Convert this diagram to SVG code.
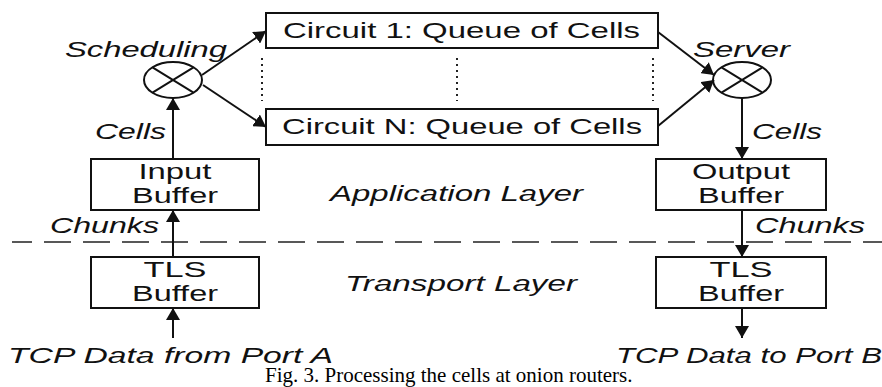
<svg xmlns="http://www.w3.org/2000/svg" width="882" height="387" viewBox="0 0 882 387">
<style>
.box{fill:#fff;stroke:#111;stroke-width:2}
.ln{fill:none;stroke:#111;stroke-width:2}
.t{font-family:"Liberation Sans",Arial,sans-serif;font-size:22px;fill:#111}
.i{font-style:italic}
.c{text-anchor:middle}
.cap{font-family:"Liberation Serif","Times New Roman",serif;font-size:21px;fill:#000}
.dash{fill:none;stroke:#222;stroke-width:1.6;stroke-dasharray:27 12;stroke-dashoffset:7}
.dot{fill:none;stroke:#222;stroke-width:2;stroke-dasharray:2 4}
</style>
<defs>
<marker id="ah" markerUnits="userSpaceOnUse" markerWidth="14" markerHeight="14" refX="12" refY="7" orient="auto">
<path d="M0,0 L12,7 L0,14 z" fill="#111"/>
</marker>
</defs>
<rect width="882" height="387" fill="#fff"/>
<line class="dash" x1="12" y1="242" x2="882" y2="242"/>
<g id="connectors">
<line class="ln" x1="202" y1="75" x2="266" y2="31" marker-end="url(#ah)"/>
<line class="ln" x1="203" y1="85" x2="266" y2="127" marker-end="url(#ah)"/>
<line class="ln" x1="658" y1="32" x2="714" y2="75" marker-end="url(#ah)"/>
<line class="ln" x1="658" y1="126" x2="714" y2="80" marker-end="url(#ah)"/>
<line class="ln" x1="173" y1="159" x2="173" y2="98" marker-end="url(#ah)"/>
<line class="ln" x1="173" y1="257" x2="173" y2="210" marker-end="url(#ah)"/>
<line class="ln" x1="173" y1="338" x2="173" y2="308" marker-end="url(#ah)"/>
<line class="ln" x1="742" y1="98" x2="742" y2="159" marker-end="url(#ah)"/>
<line class="ln" x1="742" y1="210" x2="742" y2="257" marker-end="url(#ah)"/>
<line class="ln" x1="742" y1="308" x2="742" y2="338" marker-end="url(#ah)"/>
<line class="dot" x1="262" y1="58" x2="262" y2="101"/>
<line class="dot" x1="457" y1="58" x2="457" y2="101"/>
<line class="dot" x1="653" y1="58" x2="653" y2="101"/>
</g>
<g id="scheduler">
<ellipse class="ln" cx="173" cy="80" rx="29" ry="18"/>
<line class="ln" x1="152.5" y1="67.3" x2="193.5" y2="92.7"/>
<line class="ln" x1="152.5" y1="92.7" x2="193.5" y2="67.3"/>
<text class="t i" x="65" y="57" textLength="162" lengthAdjust="spacingAndGlyphs">Scheduling</text>
</g>
<g id="server">
<ellipse class="ln" cx="742" cy="80" rx="29" ry="18"/>
<line class="ln" x1="721.5" y1="67.3" x2="762.5" y2="92.7"/>
<line class="ln" x1="721.5" y1="92.7" x2="762.5" y2="67.3"/>
<text class="t i" x="693" y="57" textLength="97" lengthAdjust="spacingAndGlyphs">Server</text>
</g>
<g id="circuit1">
<rect class="box" x="266" y="13" width="392" height="35"/>
<text class="t" x="283" y="38" textLength="357" lengthAdjust="spacingAndGlyphs">Circuit 1: Queue of Cells</text>
</g>
<g id="circuitN">
<rect class="box" x="266" y="109" width="392" height="36"/>
<text class="t" x="282" y="134" textLength="360" lengthAdjust="spacingAndGlyphs">Circuit N: Queue of Cells</text>
</g>
<g id="input-buffer">
<rect class="box" x="91" y="159" width="168" height="51"/>
<text class="t c" x="175" y="179" textLength="73" lengthAdjust="spacingAndGlyphs">Input</text>
<text class="t c" x="175" y="203" textLength="86" lengthAdjust="spacingAndGlyphs">Buffer</text>
</g>
<g id="output-buffer">
<rect class="box" x="656" y="159" width="170" height="51"/>
<text class="t c" x="741" y="179" textLength="98" lengthAdjust="spacingAndGlyphs">Output</text>
<text class="t c" x="741" y="203" textLength="86" lengthAdjust="spacingAndGlyphs">Buffer</text>
</g>
<g id="tls-left">
<rect class="box" x="91" y="257" width="168" height="51"/>
<text class="t c" x="175" y="277" textLength="63" lengthAdjust="spacingAndGlyphs">TLS</text>
<text class="t c" x="175" y="301" textLength="86" lengthAdjust="spacingAndGlyphs">Buffer</text>
</g>
<g id="tls-right">
<rect class="box" x="656" y="257" width="170" height="51"/>
<text class="t c" x="741" y="277" textLength="63" lengthAdjust="spacingAndGlyphs">TLS</text>
<text class="t c" x="741" y="301" textLength="86" lengthAdjust="spacingAndGlyphs">Buffer</text>
</g>
<g id="labels">
<text class="t i" x="95" y="139" textLength="71" lengthAdjust="spacingAndGlyphs">Cells</text>
<text class="t i" x="752" y="139" textLength="70" lengthAdjust="spacingAndGlyphs">Cells</text>
<text class="t i" x="50" y="233" textLength="109" lengthAdjust="spacingAndGlyphs">Chunks</text>
<text class="t i" x="755" y="233" textLength="110" lengthAdjust="spacingAndGlyphs">Chunks</text>
<text class="t i" x="330" y="201" textLength="253" lengthAdjust="spacingAndGlyphs">Application Layer</text>
<text class="t i" x="345" y="291" textLength="232" lengthAdjust="spacingAndGlyphs">Transport Layer</text>
<text class="t i" x="8" y="363" textLength="325" lengthAdjust="spacingAndGlyphs">TCP Data from Port A</text>
<text class="t i" x="616" y="363" textLength="266" lengthAdjust="spacingAndGlyphs">TCP Data to Port B</text>
<text class="cap" x="265" y="382">Fig. 3. Processing the cells at onion routers.</text>
</g>
</svg>
